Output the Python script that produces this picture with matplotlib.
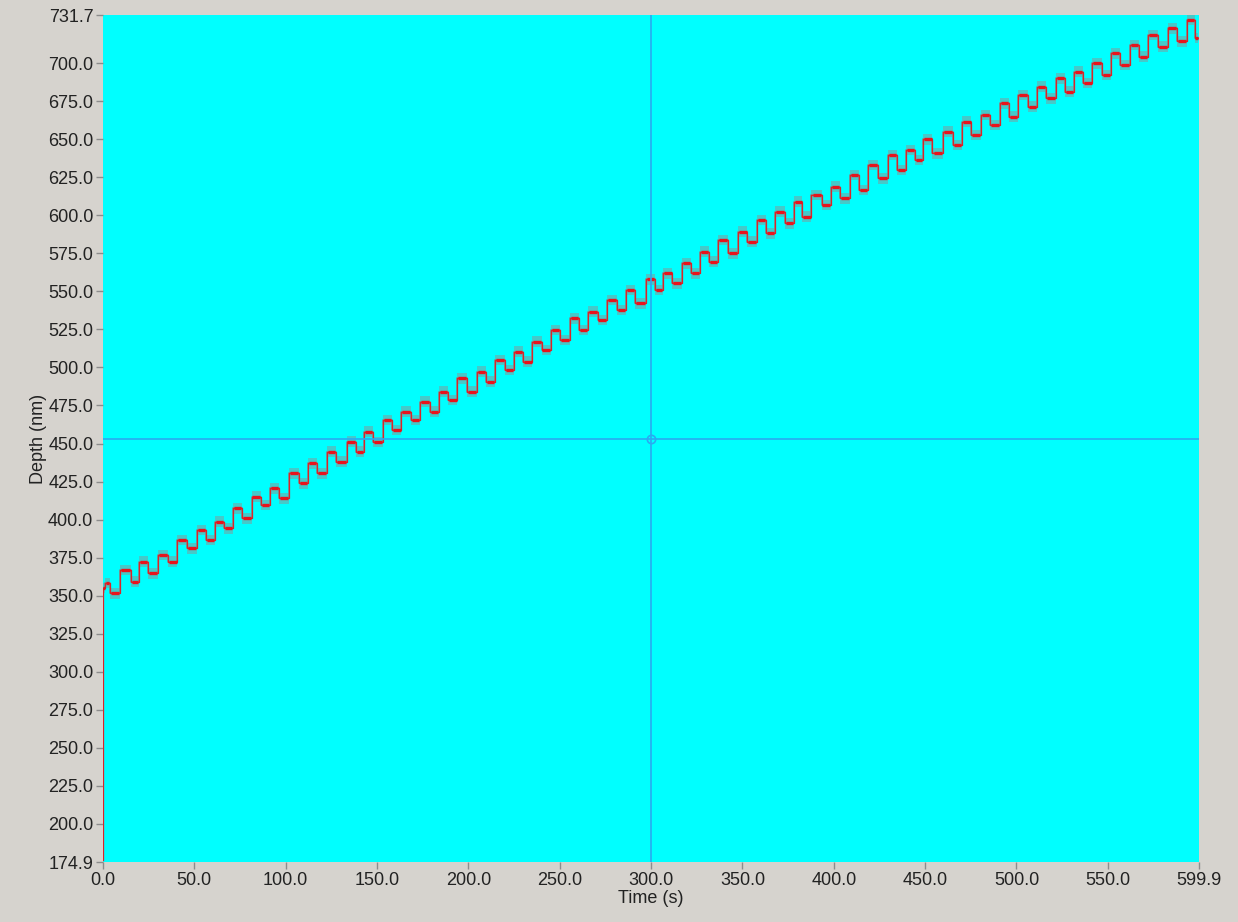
import matplotlib
matplotlib.use("Agg")
import matplotlib.pyplot as plt
import numpy as np

# plateau centres (time s, depth nm), alternating high / low
t = [0.0, 0.3, 2, 5.6, 13, 17.5, 22, 27.5, 33, 38.5, 43, 48.5, 54, 58.6, 64, 68.6,
     74, 78.6, 84, 88.7, 94, 98.7, 105, 109.6, 115, 119.7, 125, 130.6, 136, 140.7,
     145, 150.2, 156, 160.7, 166, 170.8, 176, 181.7, 186.3, 191.7, 196.3, 201.8,
     207.3, 211.8, 217.3, 222.8, 227.3, 232.8, 237.3, 242.8, 247.4, 252.9, 258.3,
     262.9, 268.4, 273, 278.4, 283.9, 288.5, 294, 300, 304, 309.4, 314, 319.5,
     324, 329.5, 334, 339.5, 345, 350.5, 355, 360.5, 365, 370.5, 376, 380.6, 385,
     390.6, 396, 400.7, 406, 411.6, 416, 421.6, 427, 432.6, 437, 441.7, 447, 451,
     457, 462.7, 468, 472.7, 478, 482.8, 488, 493.7, 498, 503.7, 509, 513.7, 519,
     523.8, 529.3, 533.8, 539.3, 543.9, 549.4, 554, 559.4, 564.9, 569.4, 574.9,
     580.4, 585, 590.4, 595.9, 599.5]
depth = [176.0, 355.0, 358.3, 351.6, 366.9, 359.2, 372.3, 364.7, 376.7, 372.3,
         386.6, 381.0, 393.2, 386.6, 398.6, 394.2, 407.3, 400.8, 415.0, 409.6,
         420.6, 414.0, 430.4, 423.8, 436.9, 430.4, 444.6, 438.0, 451.2, 444.6,
         457.7, 451.0, 465.5, 458.9, 470.9, 465.5, 477.5, 470.9, 484.1, 478.6,
         492.8, 484.1, 497.2, 490.6, 505.0, 498.4, 510.4, 503.8, 517.0, 511.5,
         524.7, 518.1, 532.3, 524.7, 536.7, 531.2, 544.4, 537.8, 551.0, 542.2,
         558.0, 551.0, 561.9, 555.3, 568.5, 561.9, 576.1, 569.5, 583.8, 575.0,
         589.2, 582.6, 596.9, 588.1, 602.4, 594.7, 608.9, 599.1, 613.3, 606.8,
         618.9, 611.2, 626.6, 616.7, 633.1, 624.3, 639.7, 629.8, 643.0, 636.4,
         650.0, 640.7, 655.1, 646.3, 661.6, 652.9, 666.0, 659.4, 673.7, 664.9,
         679.1, 671.5, 684.6, 677.0, 690.1, 681.4, 694.5, 686.9, 700.0, 692.3,
         706.6, 698.9, 712.0, 704.4, 718.6, 710.9, 723.0, 714.3, 728.5, 716.5]

x_ticks = [0.0, 50.0, 100.0, 150.0, 200.0, 250.0, 300.0, 350.0, 400.0, 450.0,
           500.0, 550.0, 599.9]
y_ticks = [174.9, 200.0, 225.0, 250.0, 275.0, 300.0, 325.0, 350.0, 375.0, 400.0,
           425.0, 450.0, 475.0, 500.0, 525.0, 550.0, 575.0, 600.0, 625.0, 650.0,
           675.0, 700.0, 731.7]

cursor_t = 300.0
cursor_d = 453.3

bg = "#D6D3CE"
plt.rcParams['font.family'] = ['Liberation Sans', 'DejaVu Sans']

fig = plt.figure(figsize=(12.38, 9.22), dpi=100, facecolor=bg)
ax = fig.add_axes([103/1238, 60/922, 1096/1238, 847/922])
ax.set_facecolor("#00FFFF")

tt = np.array(t)
dd = np.array(depth)

# raw signal: grey fuzz band and thin grey line
ax.fill_between(tt, dd - 3.5, dd + 3.5, step='mid', color='#8a9494', alpha=0.5,
                lw=0)
ax.plot(tt, dd, drawstyle='steps-mid', color='#808a8a', lw=1.2)

# filtered trace
ax.plot(tt, dd, drawstyle='steps-mid', color='#D8262A', lw=0.9)
edges = np.concatenate([[tt[0]], (tt[1:] + tt[:-1]) / 2, [tt[-1]]])
w = edges[1:] - edges[:-1]
ax.hlines(dd[1:], edges[1:-1] + 0.1 * w[1:], edges[2:] - 0.1 * w[1:],
          color='#E8141C', lw=2.4)

# cursor
ax.axvline(cursor_t, color='#2AAAF0', lw=1.2)
ax.axhline(cursor_d, color='#2AAAF0', lw=1.2)
ax.plot([cursor_t], [cursor_d], 'o', ms=6, mfc='none', mec='#2AAAF0', mew=1.2)

ax.set_xlim(0.0, 599.9)
ax.set_ylim(174.9, 731.7)
ax.set_xticks(x_ticks)
ax.set_xticklabels(["%.1f" % v for v in x_ticks])
ax.set_yticks(y_ticks)
ax.set_yticklabels(["%.1f" % v for v in y_ticks])
ax.tick_params(axis='both', direction='out', length=5, width=1, color='#8c8c8c',
               labelsize=13, labelcolor='#222222', pad=2)
for s in ax.spines.values():
    s.set_visible(False)

ax.set_xlabel("Time (s)", fontsize=13, color='#222222', labelpad=1)
ax.set_ylabel("Depth (nm)", fontsize=13, color='#222222', labelpad=1)

fig.savefig("out.png", dpi=100, facecolor=bg)
